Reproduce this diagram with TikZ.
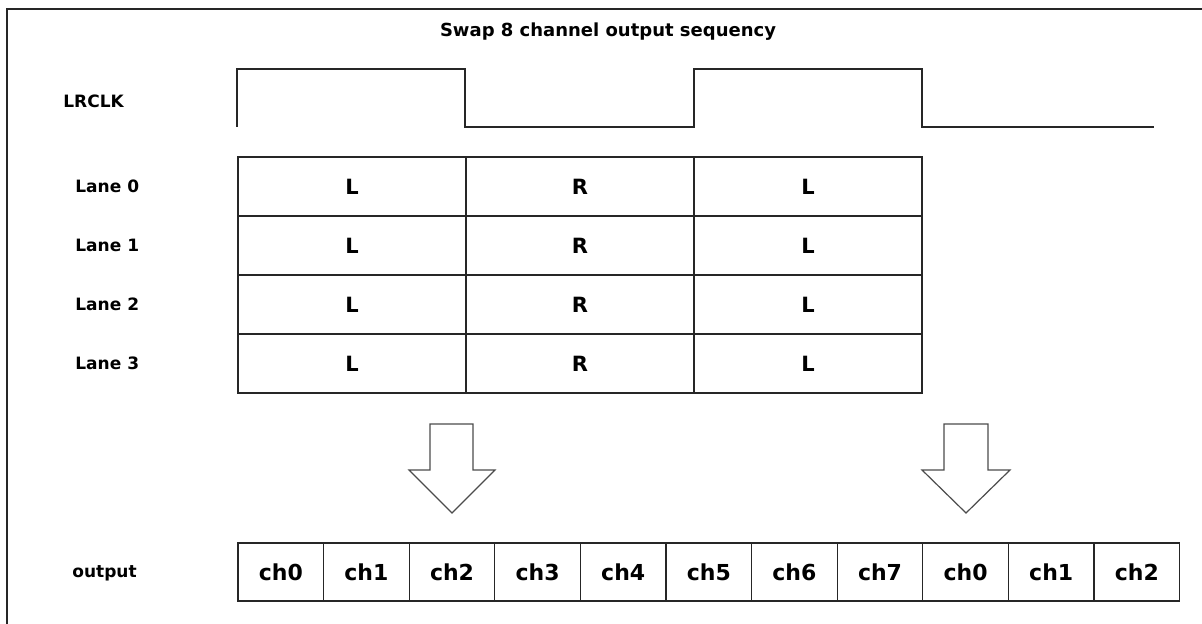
\documentclass[tikz,border=0pt]{standalone}
\usepackage{fontspec}
\setmainfont{DejaVu Sans}
\usetikzlibrary{positioning}
\tikzset{
    wire/.style={draw=black!85, line width=0.6pt},
    label/.style={font={\fontsize{8.5pt}{10}\selectfont\bfseries}, anchor=west, inner sep=0pt},
    font={\fontsize{10pt}{12}\selectfont},
}
\begin{document}
\begin{tikzpicture}[x=0.5pt, y=-0.5pt]
\tikzstyle{cell} = [rectangle, draw=black!85, line width=0.6pt, minimum width=114pt, minimum height=29.5pt, inner sep=0pt, font={\fontsize{10.5pt}{12}\selectfont\bfseries}]
\tikzstyle{chbox} = [rectangle, draw=black!85, line width=0.6pt, minimum width=42.8pt, minimum height=29pt, inner sep=0pt, font={\fontsize{11pt}{12}\selectfont\bfseries}]
\tikzstyle{bigarrow} = [draw=black!70, line width=0.6pt, fill=white]
\useasboundingbox (0,0) rectangle (1202,624);

% Frame
\draw[wire] (7,624) -- (7,9) -- (1202,9);

% Title
\node[font={\fontsize{9pt}{10}\selectfont\bfseries}] (title) at (608,32) {Swap 8 channel output sequency};

% LRCLK
\node[label] (lrclk) at (63,101) {LRCLK};
\draw[wire] (237,127) -- (237,69) -- (465,69) -- (465,127) -- (694,127) -- (694,69) -- (922,69) -- (922,127) -- (1154,127);

% Lanes
\foreach \lane/\y in {0/186.5, 1/245.5, 2/304.5, 3/363.5} {
    \node[label] (lane\lane) at (75,\y) {Lane \lane};
    \node[cell] (l\lane a) at (352,\y) {L};
    \node[cell] (l\lane b) at (580,\y) {R};
    \node[cell] (l\lane c) at (808,\y) {L};
}

% Arrows
\draw[bigarrow] (430,424) -- (473,424) -- (473,470) -- (495,470) -- (452,513) -- (409,470) -- (430,470) -- cycle;
\draw[bigarrow] (944,424) -- (988,424) -- (988,470) -- (1010,470) -- (966,513) -- (922,470) -- (944,470) -- cycle;

% Output
\node[label] (output) at (72,573) {output};
\foreach \ch [count=\i from 0] in {0,1,2,3,4,5,6,7,0,1,2} {
    \node[chbox] (out\i) at ({238+85.6*(\i+0.5)},572) {ch\ch};
}
\end{tikzpicture}
\end{document}
